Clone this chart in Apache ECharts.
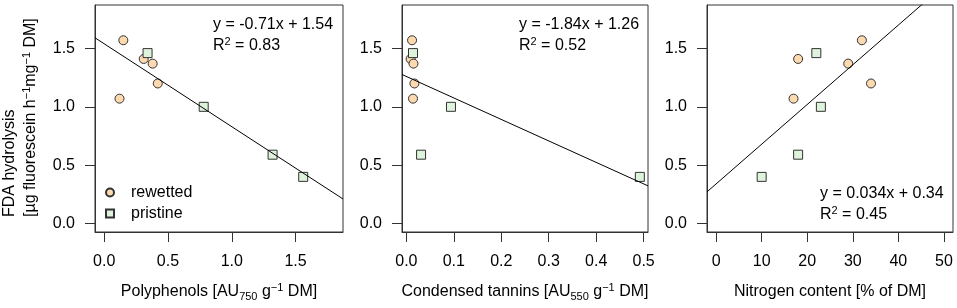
<!DOCTYPE html>
<html>
<head>
<meta charset="utf-8">
<script src="https://cdn.jsdelivr.net/npm/echarts@6/dist/echarts.min.js"></script>
<style>
  html, body { margin: 0; padding: 0; background: #fff; }
  #main { width: 957px; height: 308px; }
</style>
</head>
<body>
<div id="main"></div>
<script>
// FDA hydrolysis (y) for the two site types
var rewetY = [1.57, 1.41, 1.37, 1.20, 1.07];
var pristY = [1.46, 1.00, 0.59, 0.40];

// x values per panel
var rewetPoly = [0.15, 0.31, 0.38, 0.42, 0.12];
var pristPoly = [0.34, 0.78, 1.32, 1.56];
var rewetTannin = [0.012, 0.009, 0.015, 0.017, 0.014];
var pristTannin = [0.014, 0.094, 0.031, 0.492];
var rewetN = [32, 18, 29, 34, 17];
var pristN = [22, 23, 18, 10];

// regression fits y = a*x + b
var slopes = [-0.71, -1.84, 0.034];
var intercepts = [1.54, 1.26, 0.34];
var eqLabels = ['y = -0.71x + 1.54', 'y = -1.84x + 1.26', 'y = 0.034x + 0.34'];
var r2Labels = ['0.83', '0.52', '0.45'];

// axis ticks
var yTicks = [0, 0.5, 1.0, 1.5];
var polyTicks = [0, 0.5, 1.0, 1.5];
var tanninTicks = [0, 0.1, 0.2, 0.3, 0.4, 0.5];
var nTicks = [0, 10, 20, 30, 40, 50];

var FONT = "'Liberation Sans', Arial, Helvetica, sans-serif";
var rich = {
    n: { fontSize: 16, fontFamily: FONT, color: '#000', lineHeight: 20 },
    sup: { fontSize: 11, fontFamily: FONT, color: '#000', lineHeight: 11, verticalAlign: 'top' },
    sub: { fontSize: 11, fontFamily: FONT, color: '#000', lineHeight: 11, verticalAlign: 'bottom' }
};

var yMin = -0.072, yMax = 1.872;
var xRanges = [[-0.072, 1.872], [-0.0092, 0.5092], [-2, 52]];
var xTickSets = [polyTicks, tanninTicks, nTicks];
var xNames = [
    '{n|Polyphenols [AU}{sub|750}{n| g}{sup|\u22121}{n| DM]}',
    '{n|Condensed tannins [AU}{sub|550}{n| g}{sup|\u22121}{n| DM]}',
    '{n|Nitrogen content [% of DM]}'
];
var gridLefts = [95, 402, 707];
var gridWidths = [248, 246, 246];

var grids = [], xAxes = [], yAxes = [], series = [];
for (var i = 0; i < 3; i++) {
    grids.push({
        left: gridLefts[i], top: 5, width: gridWidths[i], height: 227,
        show: true, borderColor: '#333', borderWidth: 1, backgroundColor: 'transparent',
        outerBoundsMode: 'none'
    });
    (function (idx) {
        xAxes.push({
            gridIndex: idx, type: 'value',
            min: xRanges[idx][0], max: xRanges[idx][1],
            axisLine: { show: true, onZero: false, lineStyle: { color: '#333', width: 1 } },
            splitLine: { show: false },
            axisTick: { show: true, length: 10, customValues: xTickSets[idx], lineStyle: { color: '#333' } },
            axisLabel: {
                customValues: xTickSets[idx], margin: 22, fontSize: 16, fontFamily: FONT, color: '#000',
                formatter: function (v) { return idx == 2 ? String(Math.round(v)) : v.toFixed(1); }
            },
            name: xNames[idx], nameLocation: 'middle', nameGap: 50,
            nameTextStyle: { rich: rich }
        });
    })(i);
    yAxes.push({
        gridIndex: i, type: 'value', min: yMin, max: yMax,
        axisLine: { show: true, onZero: false, lineStyle: { color: '#333', width: 1 } },
        splitLine: { show: false },
        axisTick: { show: true, length: 10, customValues: yTicks, lineStyle: { color: '#333' } },
        axisLabel: {
            customValues: yTicks, margin: 20, fontSize: 16, fontFamily: FONT, color: '#000',
            formatter: function (v) { return v.toFixed(1); }
        }
    });
}

var xsRewet = [rewetPoly, rewetTannin, rewetN];
var xsPrist = [pristPoly, pristTannin, pristN];

function zip(xs, ys) {
    return xs.map(function (x, k) { return [x, ys[k]]; });
}

for (var j = 0; j < 3; j++) {
    series.push({
        name: 'rewetted', type: 'scatter', xAxisIndex: j, yAxisIndex: j,
        symbol: 'circle', symbolSize: 9,
        itemStyle: { color: '#FDD9B0', borderColor: '#333', borderWidth: 1, opacity: 1 },
        data: zip(xsRewet[j], rewetY)
    });
    series.push({
        name: 'pristine', type: 'scatter', xAxisIndex: j, yAxisIndex: j,
        symbol: 'rect', symbolSize: 9,
        itemStyle: { color: '#DDF3DB', borderColor: '#333', borderWidth: 1, opacity: 1 },
        data: zip(xsPrist[j], pristY)
    });
    var x0 = xRanges[j][0], x1 = xRanges[j][1];
    series.push({
        name: 'fit', type: 'line', xAxisIndex: j, yAxisIndex: j,
        showSymbol: false, symbol: 'none', silent: true, z: 5, clip: true,
        lineStyle: { color: '#000', width: 1 },
        data: [[x0, slopes[j] * x0 + intercepts[j]], [x1, slopes[j] * x1 + intercepts[j]]]
    });
}

// equation labels
var eqPos = [[213, 25], [519, 25], [820, 194]];
var graphics = [];
for (var k = 0; k < 3; k++) {
    graphics.push({
        type: 'text', x: eqPos[k][0], y: eqPos[k][1],
        style: { text: '{n|' + eqLabels[k] + '}', rich: rich, verticalAlign: 'middle', align: 'left' }
    });
    graphics.push({
        type: 'text', x: eqPos[k][0], y: eqPos[k][1] + 21,
        style: { text: '{n|R}{sup|2}{n| = ' + r2Labels[k] + '}', rich: rich, verticalAlign: 'middle', align: 'left' }
    });
}
// y axis title, two lines
graphics.push({
    type: 'text', x: 10, y: 217, rotation: Math.PI / 2,
    style: { text: '{n|FDA hydrolysis}', rich: rich, verticalAlign: 'middle', align: 'left' }
});
graphics.push({
    type: 'text', x: 31, y: 217, rotation: Math.PI / 2,
    style: { text: '{n|[\u00b5g fluorescein h}{sup|\u22121}{n|mg}{sup|\u22121}{n| DM]}', rich: rich, verticalAlign: 'middle', align: 'left' }
});

var myChart = echarts.init(document.getElementById('main'));
var option = {
    animation: false,
    backgroundColor: '#fff',
    legend: {
        data: [{ name: 'rewetted', icon: 'circle' }, { name: 'pristine', icon: 'rect' }],
        orient: 'vertical', left: 100, top: 179, padding: 5,
        itemWidth: 8, itemHeight: 8, itemGap: 4,
        selectedMode: false,
        textStyle: { fontSize: 16, fontFamily: FONT, color: '#000', padding: [0, 0, 0, 12], lineHeight: 17 }
    },
    grid: grids,
    xAxis: xAxes,
    yAxis: yAxes,
    series: series,
    graphic: graphics
};
myChart.setOption(option);
</script>
</body>
</html>
